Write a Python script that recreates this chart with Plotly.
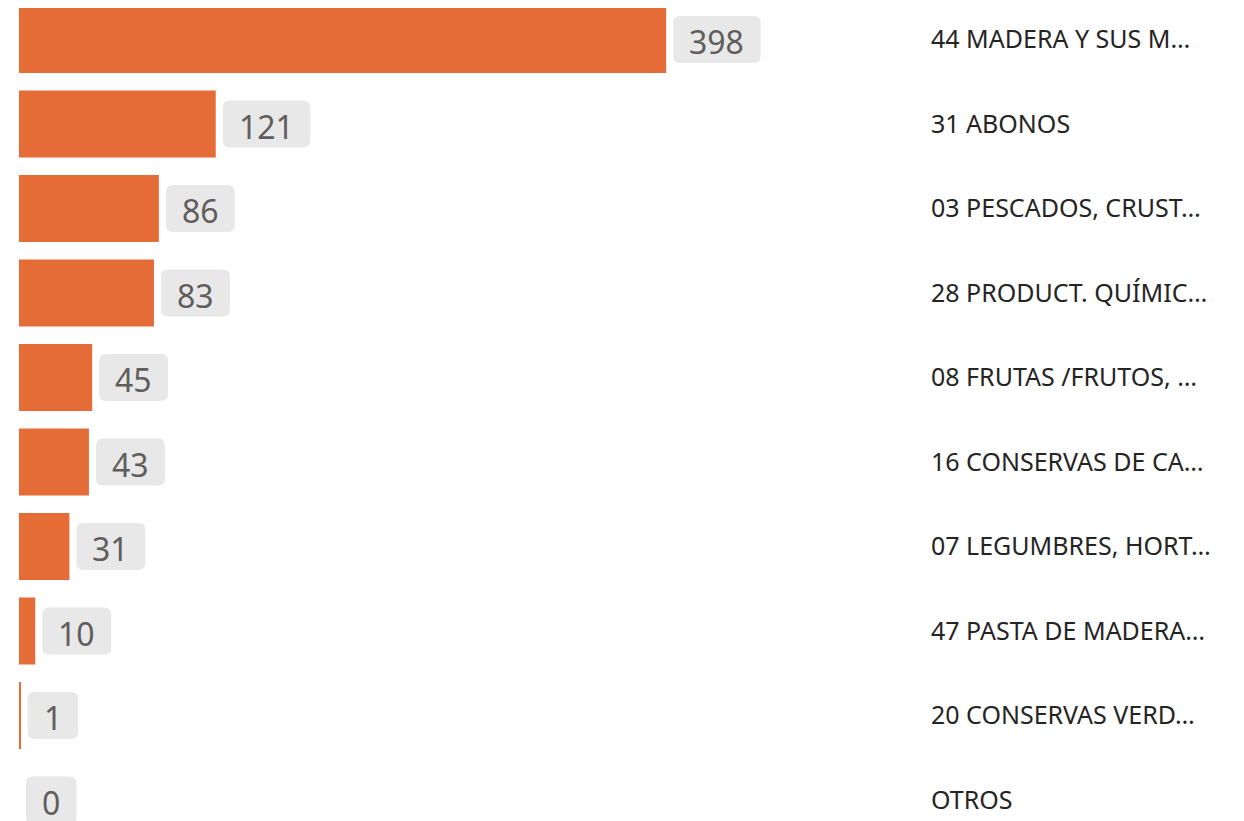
import plotly.graph_objects as go

categories = [
    "44 MADERA Y SUS M…",
    "31 ABONOS",
    "03 PESCADOS, CRUST…",
    "28 PRODUCT. QUÍMIC…",
    "08 FRUTAS /FRUTOS, …",
    "16 CONSERVAS DE CA…",
    "07 LEGUMBRES, HORT…",
    "47 PASTA DE MADERA…",
    "20 CONSERVAS VERD…",
    "OTROS",
]
values = [398, 121, 86, 83, 45, 43, 31, 10, 1, 0]

# page body has an 8px margin; figure fills the rest of the window
W, H = 1236, 813
BAR_COLOR = "#E66C37"
BOX_COLOR = "#E8E8E8"
VAL_COLOR = "#605E5C"
CAT_COLOR = "#252423"
FONT = "Segoe UI, Noto Sans, Open Sans, sans-serif"

left_px, right_px = 11, 920
px_per_unit = 1.626
xmax = (right_px - left_px) / px_per_unit

pitch = 84.5
c0 = 31.5
y_top = -c0 / pitch
y_bot = (H - c0) / pitch

fig = go.Figure(go.Bar(
    x=values, y=categories, orientation="h",
    marker=dict(color=BAR_COLOR, line=dict(width=0)),
    hoverinfo="x+y",
))

shapes, annotations = [], []
bh = 47
r = 7
for cat, v in zip(categories, values):
    n = len(str(v))
    bw = 32 + 18.5 * n
    x0, x1 = 7, 7 + bw
    y0, y1 = -bh / 2, bh / 2
    path = (f"M {x0+r},{y0} L {x1-r},{y0} Q {x1},{y0} {x1},{y0+r} "
            f"L {x1},{y1-r} Q {x1},{y1} {x1-r},{y1} L {x0+r},{y1} "
            f"Q {x0},{y1} {x0},{y1-r} L {x0},{y0+r} Q {x0},{y0} {x0+r},{y0} Z")
    shapes.append(dict(type="path", xref="x", yref="y", xsizemode="pixel", ysizemode="pixel",
                       xanchor=v, yanchor=cat, path=path,
                       fillcolor=BOX_COLOR, line=dict(width=0), layer="above"))
    annotations.append(dict(x=v, y=cat, xref="x", yref="y", text=str(v), showarrow=False,
                            xanchor="center", yanchor="middle", xshift=x0 + bw / 2, yshift=-2,
                            font=dict(family=FONT, size=32, color=VAL_COLOR)))

fig.update_layout(
    width=W, height=H,
    margin=dict(l=0, r=0, t=0, b=0),
    paper_bgcolor="white", plot_bgcolor="white",
    bargap=0.207,
    showlegend=False,
    shapes=shapes, annotations=annotations,
    xaxis=dict(domain=[left_px / W, right_px / W], range=[0, xmax], visible=False, fixedrange=True),
    yaxis=dict(type="category", categoryorder="array", categoryarray=categories,
               range=[y_bot, y_top], side="right", showgrid=False, zeroline=False,
               showline=False, ticks="", ticklabelstandoff=2,
               tickfont=dict(family=FONT, size=25, color=CAT_COLOR), fixedrange=True),
)

fig.write_html("out.html")
